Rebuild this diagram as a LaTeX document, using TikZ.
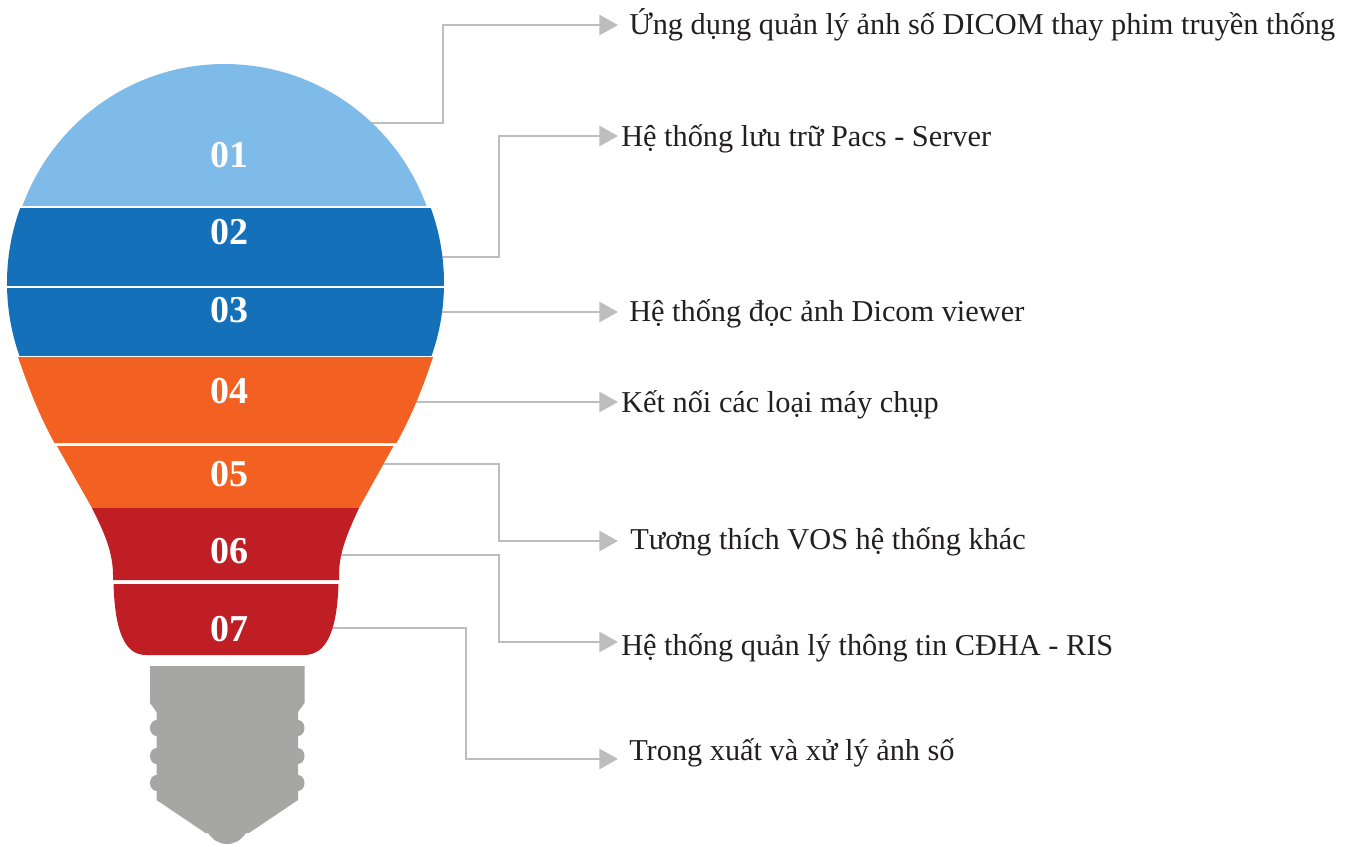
\documentclass[tikz,border=0pt]{standalone}
\usepackage{fontspec}
\setmainfont{Liberation Serif}
\usetikzlibrary{arrows.meta}
\definecolor{cLight}{HTML}{7FBBE8}
\definecolor{cBlue}{HTML}{1471B9}
\definecolor{cOrange}{HTML}{F36122}
\definecolor{cRed}{HTML}{BE1E24}
\definecolor{cBase}{HTML}{A6A6A5}
\definecolor{cLine}{HTML}{BDBDBD}
\definecolor{cText}{HTML}{231F20}
\tikzset{
  num/.style={text=white,font=\fontsize{28.5}{30}\selectfont\bfseries,anchor=base,inner sep=0pt},
  lbl/.style={text=cText,font=\fontsize{22.75}{26}\selectfont,anchor=base west,inner sep=0pt},
  conn/.style={draw=cLine,line width=2.2pt,-{Triangle[length=14pt,width=15pt,fill=cLine]}}
}
\begin{document}
\begin{tikzpicture}[x=0.75pt,y=-0.75pt]
\useasboundingbox (0,0) rectangle (1352,846);
% connector ends
\coordinate (s1) at (370,123);
\coordinate (s2) at (440,257);
\coordinate (s3) at (440,312);
\coordinate (s4) at (410,402);
\coordinate (s5) at (380,464);
\coordinate (s6) at (338,555);
\coordinate (s7) at (326,628);
\coordinate (t1) at (618,25);
\coordinate (t2) at (618,136);
\coordinate (t3) at (618,312);
\coordinate (t4) at (618,402);
\coordinate (t5) at (618,541);
\coordinate (t6) at (618,642);
\coordinate (t7) at (618,759);
\draw[conn] (s1) -| (443,25) -- (t1);
\draw[conn] (s2) -| (499,136) -- (t2);
\draw[conn] (s3) -- (t3);
\draw[conn] (s4) -- (t4);
\draw[conn] (s5) -| (499,541) -- (t5);
\draw[conn] (s6) -| (499,642) -- (t6);
\draw[conn] (s7) -| (466,759) -- (t7);
% bulb top
\begin{scope}
\clip (0,0) rectangle (1352,205.5);
\fill[cLight] (224.5,280) ellipse[x radius=215,y radius=216];
\end{scope}
\begin{scope}
\clip (0,208) rectangle (1352,285);
\fill[cBlue] (225.5,283) circle[radius=218.5];
\end{scope}
\begin{scope}
\clip (0,288) rectangle (1352,355.5);
\fill[cBlue] (225.5,283) circle[radius=218.5];
\end{scope}
% bulb body
\fill[cOrange] (18,357) .. controls (28.5,387) and (38,413) .. (54.5,443)
  -- (396.5,443) .. controls (413,413) and (423,387) .. (433,357) -- cycle;
\fill[cOrange] (57,446) -- (92,508) -- (359,508) -- (393.5,446) -- cycle;
\fill[cRed] (92,508) .. controls (104,532) and (113,552) .. (113,575) -- (113,580)
  -- (339,580) -- (339,575) .. controls (339,552) and (348,532) .. (359,508) -- cycle;
\fill[cRed] (113.5,584) .. controls (115,630) and (124,655) .. (146,655)
  -- (304,655) .. controls (327,655) and (337,630) .. (338.5,584) -- cycle;
% base
\fill[cBase] (150,666) -- (304.5,666) -- (304.5,703) -- (298,712) -- (298,720)
  arc[start angle=-90,end angle=90,x radius=6.5,y radius=8] -- (298,748)
  arc[start angle=-90,end angle=90,x radius=6.5,y radius=8] -- (298,775)
  arc[start angle=-90,end angle=90,x radius=6.5,y radius=8] -- (298,800)
  -- (249,833) -- (246,833)
  .. controls (241,840) and (235,844) .. (227,844)
  .. controls (219,844) and (213,840) .. (208,833) -- (205.5,833)
  -- (156.5,800) -- (156.5,791)
  arc[start angle=90,end angle=270,x radius=6.5,y radius=8] -- (156.5,764)
  arc[start angle=90,end angle=270,x radius=6.5,y radius=8] -- (156.5,736)
  arc[start angle=90,end angle=270,x radius=6.5,y radius=8] -- (156.5,712) -- (150,703) -- cycle;
% numbers
\node[num] (n1) at (229.5,167) {01};
\node[num] (n2) at (229.5,244) {02};
\node[num] (n3) at (229.5,322) {03};
\node[num] (n4) at (229.5,403) {04};
\node[num] (n5) at (229.5,486) {05};
\node[num] (n6) at (229.5,563) {06};
\node[num] (n7) at (229.5,641) {07};
% labels
\node[lbl] (l1) at (629,34) {Ứng dụng quản lý ảnh số DICOM thay phim truyền thống};
\node[lbl] (l2) at (621,146) {Hệ thống lưu trữ Pacs - Server};
\node[lbl] (l3) at (629,321) {Hệ thống đọc ảnh Dicom viewer};
\node[lbl] (l4) at (621,412) {Kết nối các loại máy chụp};
\node[lbl] (l5) at (630,549) {Tương thích VOS hệ thống khác};
\node[lbl] (l6) at (621,655) {Hệ thống quản lý thông tin CĐHA - RIS};
\node[lbl] (l7) at (629,760) {Trong xuất và xử lý ảnh số};
\end{tikzpicture}
\end{document}
